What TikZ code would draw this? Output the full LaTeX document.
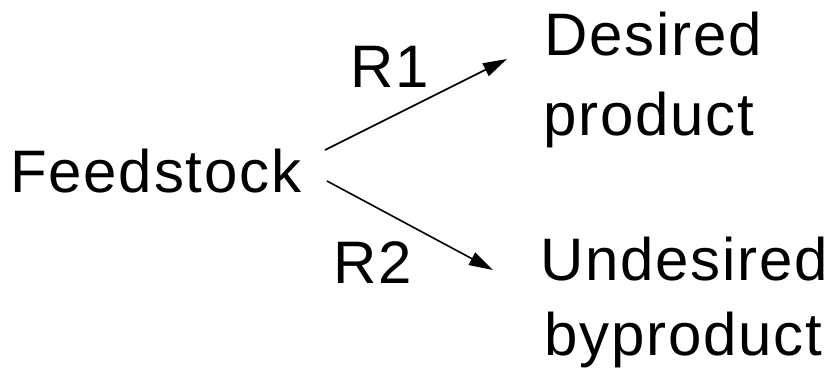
\documentclass[tikz,border=0pt]{standalone}
\usepackage{fontspec}
\setmainfont{Liberation Sans}[LetterSpace=3]
\usetikzlibrary{arrows.meta}
\begin{document}
\begin{tikzpicture}[x=1pt,y=-1pt,
  lbl/.style={anchor=base west,inner sep=0pt,font=\fontsize{60}{60}\selectfont},
  conn/.style={line width=1.6pt,-{Triangle[length=24pt,width=14pt]}}]
\useasboundingbox (0,0) rectangle (831,373);
\node[lbl] (feed) at (10,192) {Feedstock};
\node[lbl] (r1) at (350,87) {R1};
\node[lbl] (r2) at (333,283) {R2};
\node[lbl] (des) at (544,55) {Desired};
\node[lbl] (prod) at (543,135) {product};
\node[lbl] (und) at (540,280) {Undesired};
\node[lbl] (byp) at (544,355) {byproduct};
\coordinate (s1) at (325,150);
\coordinate (t1) at (507,59);
\coordinate (s2) at (327,181);
\coordinate (t2) at (493,270);
\draw[conn] (s1) -- (t1);
\draw[conn] (s2) -- (t2);
\end{tikzpicture}
\end{document}
